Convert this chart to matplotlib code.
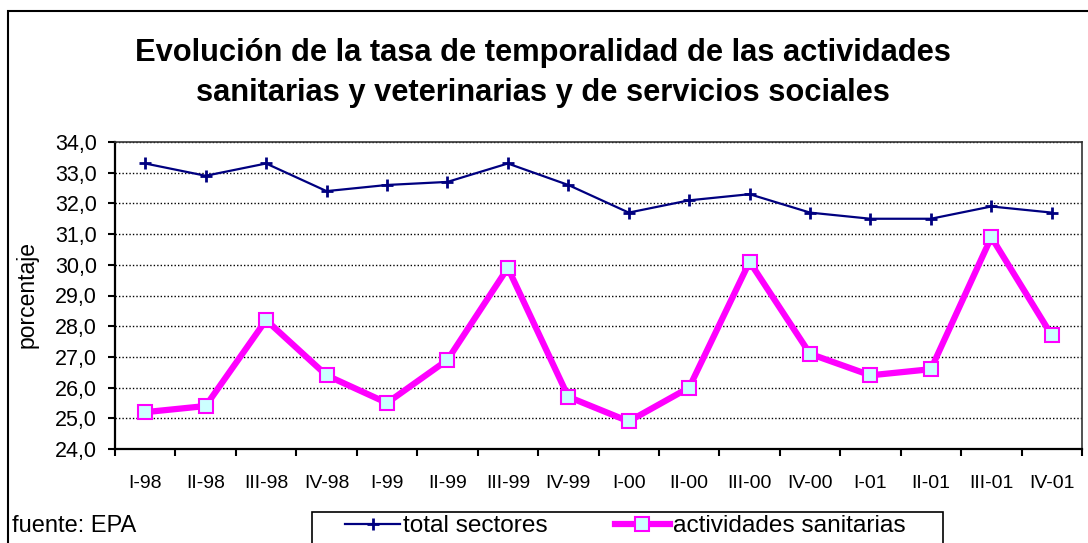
import matplotlib
matplotlib.use("Agg")
import matplotlib.pyplot as plt
from matplotlib.patches import Rectangle
from matplotlib.ticker import FuncFormatter, FixedLocator
import numpy as np

plt.rcParams['font.family'] = ['Liberation Sans', 'DejaVu Sans']

# datos
trimestres = ["I-98", "II-98", "III-98", "IV-98", "I-99", "II-99", "III-99", "IV-99",
              "I-00", "II-00", "III-00", "IV-00", "I-01", "II-01", "III-01", "IV-01"]
total_sectores = [33.3, 32.9, 33.3, 32.4, 32.6, 32.7, 33.3, 32.6,
                  31.7, 32.1, 32.3, 31.7, 31.5, 31.5, 31.9, 31.7]
act_sanitarias = [25.2, 25.4, 28.2, 26.4, 25.5, 26.9, 29.9, 25.7,
                  24.9, 26.0, 30.1, 27.1, 26.4, 26.6, 30.9, 27.7]

W, H = 1088, 543
fig = plt.figure(figsize=(W / 100, H / 100), dpi=100)
ax = fig.add_axes([115 / W, 1 - 449 / H, 967 / W, 307 / H])

x = np.arange(len(trimestres))
l1, = ax.plot(x, total_sectores, color="#000080", lw=1.6, marker="+",
              markersize=9, markeredgewidth=2, label="total sectores")
l2, = ax.plot(x, act_sanitarias, color="#FF00FF", lw=4.5, marker="s",
              markersize=9.5, markerfacecolor="#CCFFFF", markeredgecolor="#FF00FF",
              markeredgewidth=1.5, label="actividades sanitarias")

ax.set_xlim(-0.5, len(trimestres) - 0.5)
ax.set_ylim(24, 34)
ax.set_yticks(np.arange(24, 35, 1))
ax.yaxis.set_major_formatter(FuncFormatter(lambda v, p: f"{v:.1f}".replace(".", ",")))
ax.set_xticks(x)
ax.set_xticklabels(trimestres)
ax.xaxis.set_minor_locator(FixedLocator(np.arange(-0.5, len(trimestres), 1)))
ax.tick_params(axis="x", which="major", length=0, pad=19, labelsize=14)
ax.tick_params(axis="x", which="minor", length=5, width=1.5, direction="out")
ax.tick_params(axis="y", length=5, width=1.5, pad=8, labelsize=15.5)

ax.grid(axis="y", color="black", linestyle=(0, (1, 1.5)), lw=1)
ax.set_axisbelow(True)
for s in ["left", "bottom"]:
    ax.spines[s].set_linewidth(1.6)
    ax.spines[s].set_color("black")
for s in ["top", "right"]:
    ax.spines[s].set_linewidth(1.2)
    ax.spines[s].set_color("#333333")

# títulos y textos
fig.text(543 / W, 1 - 61 / H, "Evolución de la tasa de temporalidad de las actividades",
         ha="center", va="baseline", fontsize=22.2, fontweight="bold")
fig.text(543 / W, 1 - 101 / H, "sanitarias y veterinarias y de servicios sociales",
         ha="center", va="baseline", fontsize=22.2, fontweight="bold")
fig.text(27 / W, 1 - 295 / H, "porcentaje", rotation=90, ha="center", va="center",
         fontsize=16.5)
fig.text(12 / W, 1 - 532 / H, "fuente: EPA", ha="left", va="baseline", fontsize=17)

# marco exterior y caja de la leyenda
fig.patches.append(Rectangle((8 / W, -0.1), 1.2, 1.1 - 11 / H, transform=fig.transFigure,
                             fill=False, edgecolor="black", lw=1.5))
fig.patches.append(Rectangle((312 / W, -0.1), (943 - 312) / W, 0.1 + 1 - 512 / H,
                             transform=fig.transFigure, fill=False,
                             edgecolor="black", lw=1.2))
fig.legend(handles=[l1, l2], loc="center left", bbox_to_anchor=(345 / W, 1 - 526 / H),
           ncol=2, frameon=False, fontsize=17.6, handlelength=2.25,
           handletextpad=0.12, columnspacing=2.75, borderpad=0, borderaxespad=0)

fig.savefig("out.png", dpi=100)
